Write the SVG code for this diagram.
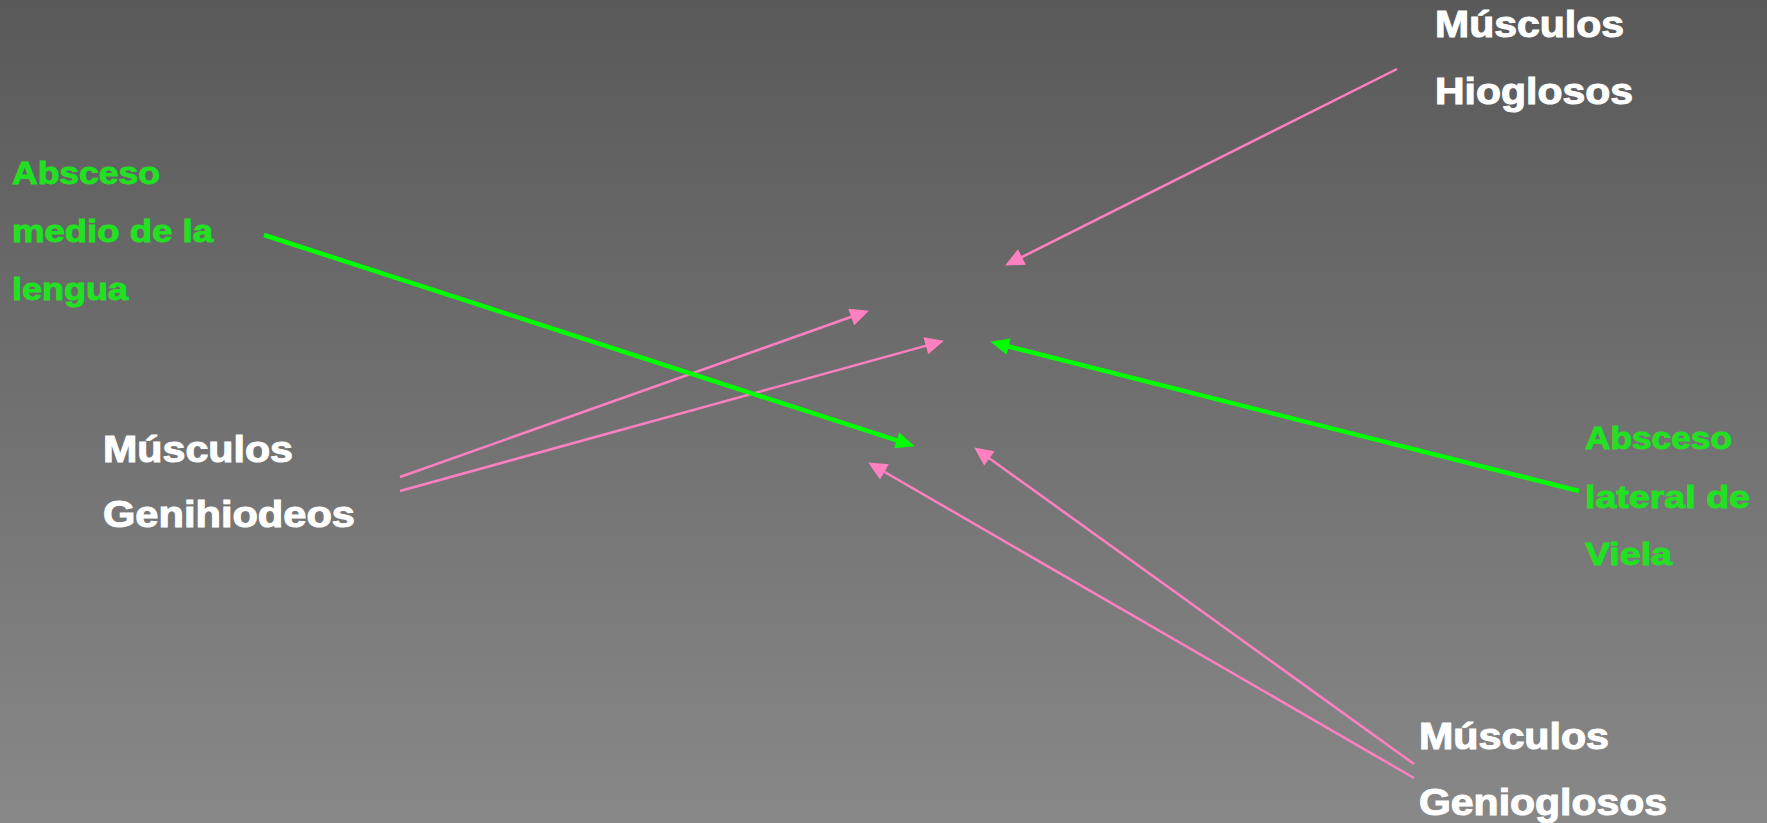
<svg xmlns="http://www.w3.org/2000/svg" width="1767" height="823" viewBox="0 0 1767 823">
  <defs>
    <linearGradient id="bg" x1="0" y1="0" x2="0" y2="1">
      <stop offset="0" stop-color="#595959"/>
      <stop offset="1" stop-color="#888888"/>
    </linearGradient>
    <marker id="ap" markerUnits="userSpaceOnUse" markerWidth="20" markerHeight="20" refX="11" refY="0" viewBox="0 -8 16 16" orient="auto" overflow="visible">
      <path d="M0,-7 L15,0 L0,7 Z" fill="#ff80c0"/>
    </marker>
    <marker id="ag" markerUnits="userSpaceOnUse" markerWidth="20" markerHeight="20" refX="11" refY="0" viewBox="0 -8 18 16" orient="auto" overflow="visible">
      <path d="M0,-7.5 L17,0 L0,7.5 Z" fill="#00ff00"/>
    </marker>
  </defs>
  <style>
    .w { font-family: "Liberation Sans", Arial, sans-serif; font-weight: bold; font-size: 36px; fill: #ffffff; stroke: #ffffff; stroke-width: 1; }
    .g { font-family: "Liberation Sans", Arial, sans-serif; font-weight: bold; font-size: 31px; fill: #22e022; stroke: #22e022; stroke-width: 0.9; }
    .pk { stroke: #ff80c0; stroke-width: 2.5; fill: none; marker-end: url(#ap); }
    .gr { stroke: #00ff00; stroke-width: 4.5; fill: none; marker-end: url(#ag); }
  </style>
  <rect x="0" y="0" width="1767" height="823" fill="url(#bg)"/>

  <g id="connectors">
    <line class="pk" x1="1397" y1="69" x2="1009.6" y2="263.2"/>
    <line class="pk" x1="400" y1="477" x2="864.2" y2="312.3"/>
    <line class="pk" x1="400" y1="491" x2="939.1" y2="342.1"/>
    <line class="pk" x1="1414" y1="764" x2="978.2" y2="450.3"/>
    <line class="pk" x1="1414" y1="778" x2="872.5" y2="465"/>
    <line class="gr" x1="264" y1="235" x2="908.3" y2="444.1"/>
    <line class="gr" x1="1579" y1="491" x2="996.8" y2="343.5"/>
  </g>

  <g id="hioglosos">
    <text class="w" x="1435" y="37" textLength="189" lengthAdjust="spacingAndGlyphs">Músculos</text>
    <text class="w" x="1435" y="104" textLength="198" lengthAdjust="spacingAndGlyphs">Hioglosos</text>
  </g>
  <g id="genihiodeos">
    <text class="w" x="103" y="462" textLength="190" lengthAdjust="spacingAndGlyphs">Músculos</text>
    <text class="w" x="103" y="527" textLength="252" lengthAdjust="spacingAndGlyphs">Genihiodeos</text>
  </g>
  <g id="genioglosos">
    <text class="w" x="1419" y="749" textLength="190" lengthAdjust="spacingAndGlyphs">Músculos</text>
    <text class="w" x="1419" y="815" textLength="248" lengthAdjust="spacingAndGlyphs">Genioglosos</text>
  </g>
  <g id="absceso-medio">
    <text class="g" x="12" y="184" textLength="148" lengthAdjust="spacingAndGlyphs">Absceso</text>
    <text class="g" x="12" y="242" textLength="201" lengthAdjust="spacingAndGlyphs">medio de la</text>
    <text class="g" x="12" y="300" textLength="116" lengthAdjust="spacingAndGlyphs">lengua</text>
  </g>
  <g id="absceso-lateral">
    <text class="g" x="1585" y="449" textLength="147" lengthAdjust="spacingAndGlyphs">Absceso</text>
    <text class="g" x="1585" y="508" textLength="165" lengthAdjust="spacingAndGlyphs">lateral de</text>
    <text class="g" x="1585" y="565" textLength="87" lengthAdjust="spacingAndGlyphs">Viela</text>
  </g>
</svg>
